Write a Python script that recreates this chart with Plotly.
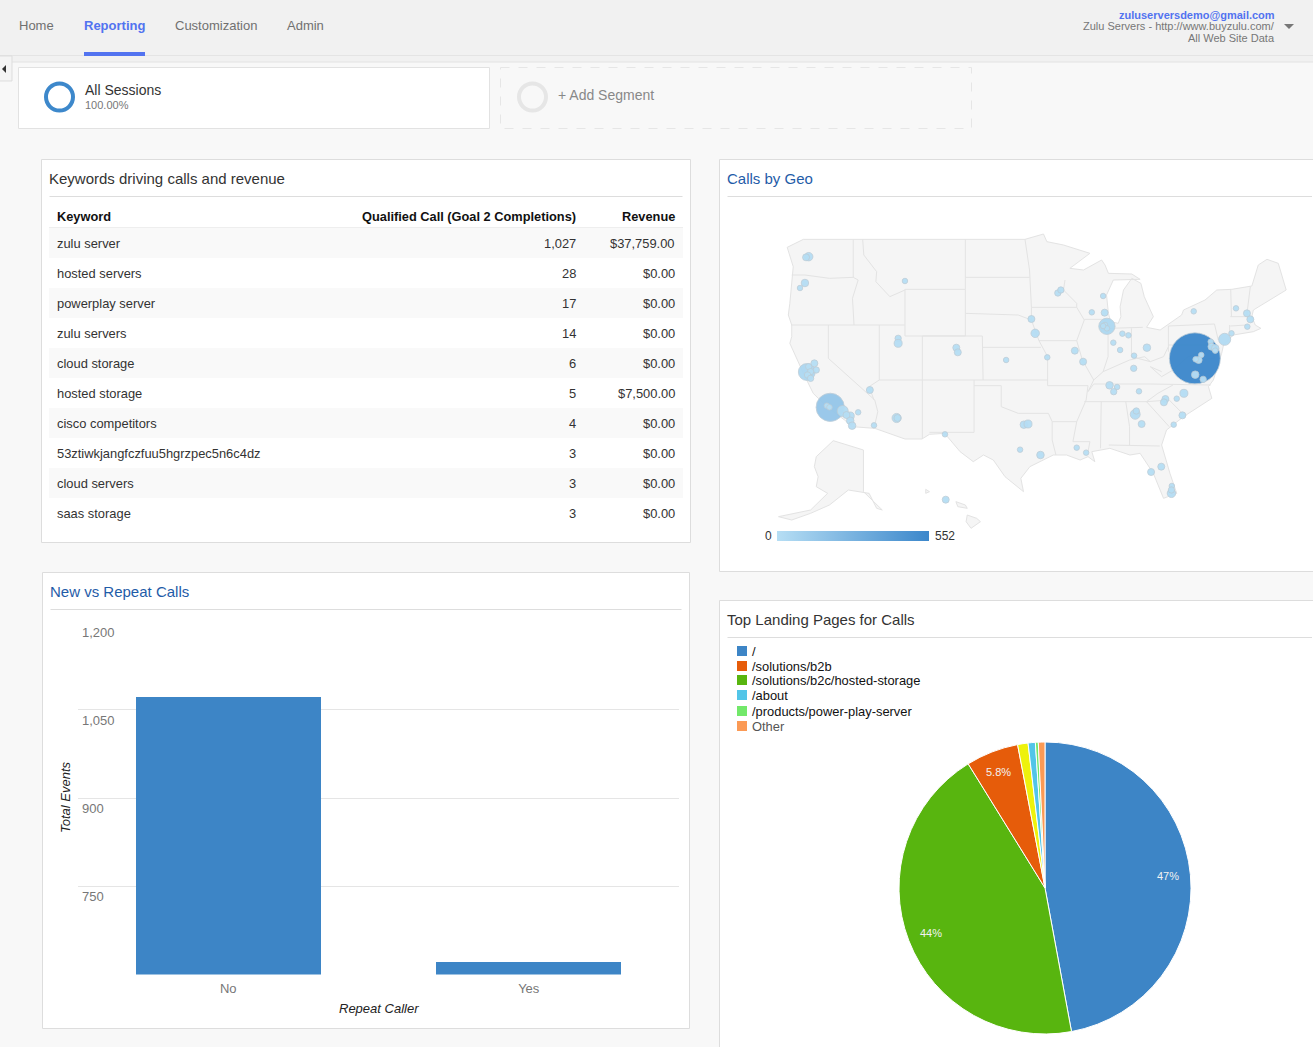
import plotly.graph_objects as go


nav_labels = ['Home', 'Reporting', 'Customization', 'Admin']
keywords = ['zulu server', 'hosted servers', 'powerplay server', 'zulu servers', 'cloud storage', 'hosted storage', 'cisco competitors', '53ztiwkjangfczfuu5hgrzpec5n6c4dz', 'cloud servers', 'saas storage']
calls = ['1,027', '28', '17', '14', '6', '5', '4', '3', '3', '3']
revenue = ['$37,759.00', '$0.00', '$0.00', '$0.00', '$0.00', '$7,500.00', '$0.00', '$0.00', '$0.00', '$0.00']

repeat_caller = ['No', 'Yes']
total_events = [1073, 622]
event_ticks = [750, 900, 1050, 1200]

pages = ['/', '/solutions/b2c/hosted-storage', '/solutions/b2b', '(yellow)', '/about', '/products/power-play-server', 'Other']
page_share = [47, 44, 5.8, 1.15, 0.8, 0.32, 0.73]
page_colors = ['#3d85c6', '#58b50f', '#e65c0a', '#eef20c', '#52c5e8', '#72e86a', '#fb9a55']
legend_pages = ['/', '/solutions/b2b', '/solutions/b2c/hosted-storage', '/about', '/products/power-play-server', 'Other']
legend_colors = ['#3d85c6', '#e65c0a', '#58b50f', '#52c5e8', '#72e86a', '#fb9a55']

# map drawing is in units of the picture crop
land_x = [221, 808, 857, 866, 910, 980, 927, 963, 1011, 1020, 1029, 1091, 1113, 1042, 1024, 1029, 1035, 1055, 1062, 1060, 1069, 1091, 1115, 1124, 1148, 1130, 1166, 1192, 1223, 1228, 1285, 1316, 1356, 1409, 1426, 1449, 1479, 1500, 1457, 1413, 1409, 1418, 1433, 1413, 1360, 1334, 1329, 1307, 1294, 1303, 1228, 1183, 1170, 1192, 1210, 1175, 1148, 1113, 1086, 1033, 985, 993, 975, 954, 918, 883, 821, 797, 804, 755, 724, 698, 671, 636, 610, 595, 555, 535, 490, 410, 350, 330, 283, 247, 221, 203, 185, 190, 190, 181, 185, 192, 194, 178, 221, None, 255, 300, 380, 380, 430, 415, 395, 340, 290, 240, 190, 155, 240, 285, 255, 260, 250, 255, None, 655, 680, 690, 665, 652, 655, None, 625, 650, 655, 630, 625, None, 545, 555, 545, 545]
land_y = [118, 118, 102, 125, 135, 160, 205, 210, 180, 195, 220, 222, 238, 240, 285, 340, 365, 370, 350, 320, 270, 235, 250, 290, 350, 382, 390, 370, 345, 330, 300, 270, 268, 258, 195, 178, 190, 270, 300, 330, 350, 375, 385, 395, 405, 435, 460, 540, 560, 595, 650, 690, 735, 820, 880, 895, 820, 760, 765, 745, 755, 785, 770, 780, 765, 765, 800, 835, 875, 830, 780, 765, 785, 755, 720, 700, 703, 717, 717, 685, 680, 660, 620, 580, 520, 475, 430, 410, 375, 345, 310, 225, 200, 142, 118, None, 770, 722, 750, 875, 930, 925, 880, 870, 915, 940, 960, 950, 930, 880, 860, 830, 800, 770, None, 945, 955, 965, 985, 965, 945, None, 905, 915, 925, 920, 905, None, 868, 875, 880, 868]
border_x = [353, 353, None, 190, 225, 290, 353, 366, 351, 355, None, 188, 490, None, 378, 381, 415, 413, 450, 490, None, 490, 650, 650, 536, 490, 490, None, 650, 650, None, 650, 820, None, 650, 790, 825, None, 536, 695, 697, 536, 536, None, 695, 850, None, 422, 422, 536, None, 287, 287, 410, 418, 408, None, 422, 395, 408, None, 536, 536, None, 673, 673, 555, None, 673, 745, 745, 790, 870, 880, 880, 890, None, 697, 868, None, 868, 975, 970, 945, 880, None, 945, 935, 980, 975, None, 1010, 1008, None, 965, 1130, None, 1075, 1085, 1085, None, 1030, 1165, None, 1130, 1190, None, 975, 990, 1140, 1300, None, 1130, 1160, 1200, None, 1130, 1190, 1225, None, 825, 945, None, 914, 910, 945, 945, 965, 945, None, 845, 945, None, 808, 820, 825, 825, 845, 868, 868, None, 945, 960, 990, 975, None, 965, 1030, None, 1028, 1028, 1015, None, 990, 1015, 1085, 1125, 1140, None, 1090, 1090, None, 1030, 1120, None, 1188, 1188, None, 1090, 1140, 1175, 1188, None, 1140, 1170, None, 1140, 1170, 1200, 1240, 1290, None, 1188, 1300, None, 1188, 1310, 1320, None, 1350, 1350, None, 1353, 1355, None, 1405, 1395, None, 1352, 1400, None, 1352, 1395, None, 1300, 1310, 1270]
border_y = [118, 232, None, 225, 225, 235, 232, 240, 295, 375, None, 375, 375, None, 118, 165, 215, 245, 290, 270, None, 268, 268, 408, 408, 408, 268, None, 118, 268, None, 232, 232, None, 340, 345, 360, None, 408, 408, 540, 540, 408, None, 442, 442, None, 375, 540, 540, None, 375, 475, 600, 635, 685, None, 540, 560, 600, None, 540, 717, None, 540, 697, 697, None, 557, 557, 620, 640, 640, 665, 720, 765, None, 540, 540, None, 557, 557, 600, 665, 665, None, 665, 725, 725, 755, None, 605, 745, None, 605, 605, None, 605, 680, 735, None, 735, 738, None, 605, 680, None, 575, 552, 552, 555, None, 605, 580, 555, None, 605, 600, 640, None, 322, 322, None, 240, 270, 310, 322, 360, 422, None, 422, 422, None, 118, 210, 322, 360, 422, 470, 557, None, 422, 480, 540, 575, None, 358, 358, None, 385, 470, 515, None, 540, 515, 480, 470, 485, None, 385, 470, None, 385, 382, None, 378, 455, None, 470, 485, 470, 440, None, 500, 515, None, 500, 530, 510, 470, 450, None, 435, 435, None, 378, 372, 420, None, 375, 415, None, 268, 350, None, 260, 350, None, 350, 350, None, 378, 375, None, 435, 475, 480]
city_x = [1258, 292, 230, 1025, 1337, 325, 235, 228, 225, 212, 490, 895, 903, 1015, 985, 1019, 1020, 1025, 1015, 825, 835, 867, 758, 940, 962, 472, 472, 626, 630, 397, 468, 470, 408, 250, 255, 235, 240, 232, 240, 283, 290, 345, 345, 350, 366, 335, 596, 805, 816, 795, 849, 945, 970, 1032, 1052, 1043, 1110, 1066, 1082, 1042, 1060, 1097, 1096, 1131, 1255, 1367, 1396, 1405, 1397, 1355, 1229, 1210, 1180, 1176, 1100, 1103, 1117, 1225, 1202, 1169, 1142, 1197, 1196, 1196, 598, 1275, 1268, 1260, 1259, 1280, 1300, 1302, 1312, 1312]
city_y = [475, 622, 516, 379, 418, 633, 170, 172, 249, 264, 243, 279, 270, 288, 337, 338, 375, 385, 378, 357, 400, 472, 480, 452, 485, 415, 430, 443, 457, 570, 654, 654, 676, 490, 510, 500, 515, 525, 535, 617, 622, 648, 662, 677, 637, 645, 703, 674, 672, 749, 765, 743, 758, 556, 561, 575, 574, 401, 406, 428, 450, 467, 505, 443, 334, 325, 340, 358, 380, 400, 580, 596, 597, 607, 643, 633, 672, 646, 674, 800, 816, 858, 880, 870, 899, 465, 480, 478, 524, 538, 425, 440, 445, 452]
city_calls = [552, 150, 44, 40, 18, 14, 6, 3, 4, 1, 1, 2, 2, 1, 1, 3, 1, 1, 1, 3, 6, 1, 1, 3, 3, 2, 5, 3, 3, 3, 8, 3, 1, 3, 2, 2, 2, 2, 2, 1, 1, 5, 4, 4, 1, 3, 1, 4, 5, 1, 4, 1, 1, 4, 1, 2, 1, 1, 1, 1, 1, 1, 2, 4, 1, 1, 3, 3, 1, 1, 5, 1, 3, 3, 10, 2, 3, 3, 1, 3, 3, 1, 6, 2, 3, 1, 3, 1, 4, 2, 1, 3, 4, 1]

fig = go.Figure()
fig.add_trace(go.Scatter(x=[None], y=[None], hoverinfo='skip', xaxis='x', yaxis='y'))  # pixel canvas for the page furniture

fig.add_trace(go.Bar(x=repeat_caller, y=total_events, width=0.617, marker={'color': '#3d85c6', 'line': {'width': 0}}, xaxis='x2', yaxis='y2'))

fig.add_trace(go.Scatter(x=land_x, y=land_y, mode='lines', fill='toself', fillcolor='#f5f5f5', line={'color': '#e3e3e3', 'width': 1}, hoverinfo='skip', xaxis='x3', yaxis='y3'))
fig.add_trace(go.Scatter(x=border_x, y=border_y, mode='lines', line={'color': '#e3e3e3', 'width': 1}, hoverinfo='skip', connectgaps=False, xaxis='x3', yaxis='y3'))
fig.add_trace(go.Scatter(x=city_x, y=city_y, mode='markers', xaxis='x3', yaxis='y3', marker={
    'size': [3.5 + 47.5 * (c / 552) ** 0.5 for c in city_calls],
    'color': city_calls, 'cmin': 0, 'cmax': 552, 'opacity': 0.95,
    'colorscale': [[0, '#b6def4'], [1, '#3b87cb']],
    'line': {'color': '#bccbd6', 'width': 0.8},
    'colorbar': {'orientation': 'h', 'thickness': 10, 'thicknessmode': 'pixels', 'len': 152, 'lenmode': 'pixels',
                 'x': 853 / 1313, 'xanchor': 'center', 'y': 1 - 536 / 1047, 'yanchor': 'middle',
                 'xpad': 0, 'ypad': 0, 'outlinewidth': 0, 'showticklabels': False, 'ticks': ''},
}))

fig.add_trace(go.Pie(labels=pages, values=page_share, sort=False, direction='clockwise', rotation=0, textinfo='none', marker={'colors': page_colors, 'line': {'color': 'white', 'width': 1}},
                     domain={'x': [899 / 1313, 1191 / 1313], 'y': [1 - 1034 / 1047, 1 - 742 / 1047]}))

shapes = []
annotations = []
font_name = 'Liberation Sans'

# page background and top bar
shapes.append(dict(type='rect', xref='x', yref='y', x0=0, x1=1313, y0=0, y1=1047, fillcolor='#f8f8f8', line_width=0, layer='below'))
shapes.append(dict(type='rect', xref='x', yref='y', x0=0, x1=1313, y0=0, y1=62, fillcolor='#f1f1f1', line_width=0, layer='below'))
shapes.append(dict(type='line', xref='x', yref='y', x0=0, x1=1313, y0=55.5, y1=55.5, line={'color': '#e4e4e4', 'width': 1}, layer='below'))
shapes.append(dict(type='line', xref='x', yref='y', x0=0, x1=1313, y0=62, y1=62, line={'color': '#e2e2e2', 'width': 1}, layer='below'))
shapes.append(dict(type='rect', xref='x', yref='y', x0=84, x1=145, y0=52, y1=56, fillcolor='#5273f0', line_width=0, layer='below'))
shapes.append(dict(type='rect', xref='x', yref='y', x0=-1, x1=12, y0=56, y1=81, fillcolor='#f4f4f4', line={'color': '#dddddd', 'width': 1}, layer='below'))
shapes.append(dict(type='path', xref='x', yref='y', path='M 2 69 L 6 65 L 6 73 Z', fillcolor='#333333', line_width=0))
shapes.append(dict(type='path', xref='x', yref='y', path='M 1284 24 L 1294 24 L 1289 29 Z', fillcolor='#777777', line_width=0))

nav_x = [19, 84, 175, 287]
for label, x in zip(nav_labels, nav_x):
    annotations.append(dict(x=x, y=25.5, text='<b>' + label + '</b>' if label == 'Reporting' else label, font={'size': 13, 'color': '#5273f0' if label == 'Reporting' else '#707070'}, xanchor='left'))
annotations.append(dict(x=1275, y=14.5, text='<b>zuluserversdemo@gmail.com</b>', font={'size': 11, 'color': '#5273f0'}, xanchor='right'))
annotations.append(dict(x=1275, y=26, text='Zulu Servers - http://www.buyzulu.com/', font={'size': 11, 'color': '#777777'}, xanchor='right'))
annotations.append(dict(x=1275, y=38, text='All Web Site Data', font={'size': 11, 'color': '#777777'}, xanchor='right'))

# segment cards
shapes.append(dict(type='rect', xref='x', yref='y', x0=18.5, x1=489.5, y0=67.5, y1=128.5, fillcolor='white', line={'color': '#e2e2e2', 'width': 1}, layer='below'))
shapes.append(dict(type='rect', xref='x', yref='y', x0=500.5, x1=971.5, y0=67.5, y1=128.5, fillcolor='#f8f8f8', line={'color': '#e6e6e6', 'width': 1, 'dash': 'dash'}, layer='below'))
shapes.append(dict(type='circle', xref='x', yref='y', x0=46, x1=73, y0=83.5, y1=110.5, line={'color': '#3d88cb', 'width': 4}))
shapes.append(dict(type='circle', xref='x', yref='y', x0=519, x1=546, y0=83.5, y1=110.5, line={'color': '#e6e6e6', 'width': 4}))
annotations.append(dict(x=85, y=90, text='All Sessions', font={'size': 14, 'color': '#333333'}, xanchor='left'))
annotations.append(dict(x=85, y=105, text='100.00%', font={'size': 11, 'color': '#777777'}, xanchor='left'))
annotations.append(dict(x=558, y=95, text='+ Add Segment', font={'size': 14, 'color': '#888888'}, xanchor='left'))

# the four panels
panels = [(41.5, 690.5, 159.5, 542.5, 'Keywords driving calls and revenue', '#333333', 196.5),
          (719.5, 1320, 159.5, 571.5, 'Calls by Geo', '#1f5ca8', 196.5),
          (42.5, 689.5, 572.5, 1028.5, 'New vs Repeat Calls', '#1f5ca8', 609.5),
          (719.5, 1320, 600.5, 1060, 'Top Landing Pages for Calls', '#333333', 637.5)]
for x0, x1, y0, y1, title, color, rule in panels:
    shapes.append(dict(type='rect', xref='x', yref='y', x0=x0, x1=x1, y0=y0, y1=y1, fillcolor='white', line={'color': '#dddddd', 'width': 1}, layer='below'))
    shapes.append(dict(type='line', xref='x', yref='y', x0=x0 + 8, x1=min(x1 - 8, 1313), y0=rule, y1=rule, line={'color': '#dddddd', 'width': 1}, layer='below'))
    annotations.append(dict(x=x0 + 7.5, y=rule - 18.5, text=title, font={'size': 15, 'color': color}, xanchor='left'))

# table
annotations.append(dict(x=57, y=216.5, text='<b>Keyword</b>', font={'size': 12.8, 'color': '#111111'}, xanchor='left'))
annotations.append(dict(x=576, y=216.5, text='<b>Qualified Call (Goal 2 Completions)</b>', font={'size': 12.8, 'color': '#111111'}, xanchor='right'))
annotations.append(dict(x=675, y=216.5, text='<b>Revenue</b>', font={'size': 12.8, 'color': '#111111'}, xanchor='right'))
shapes.append(dict(type='line', xref='x', yref='y', x0=49, x1=683, y0=227.5, y1=227.5, line={'color': '#eeeeee', 'width': 1}, layer='below'))
for i in range(len(keywords)):
    row_y = 243.5 + 30 * i
    if i % 2 == 0:
        shapes.append(dict(type='rect', xref='x', yref='y', x0=49, x1=683, y0=row_y - 15.5, y1=row_y + 14.5, fillcolor='#f9f9f9', line_width=0, layer='below'))
    annotations.append(dict(x=57, y=row_y, text=keywords[i], font={'size': 12.9, 'color': '#333333'}, xanchor='left'))
    annotations.append(dict(x=576, y=row_y, text=calls[i], font={'size': 12.9, 'color': '#333333'}, xanchor='right'))
    annotations.append(dict(x=675, y=row_y, text=revenue[i], font={'size': 12.9, 'color': '#333333'}, xanchor='right'))

# bar chart texts
for tick in event_ticks:
    annotations.append(dict(x=82, xref='x', y=tick, yref='y2', yshift=-10.5, text=f'{tick:,}', font={'size': 13, 'color': '#777777'}, xanchor='left'))
annotations.append(dict(x=65, y=797, text='<i>Total Events</i>', textangle=-90, font={'size': 13, 'color': '#222222'}))
annotations.append(dict(x=379, y=1008, text='<i>Repeat Caller</i>', font={'size': 13, 'color': '#222222'}))

# map scale
annotations.append(dict(x=768, y=536, text='0', font={'size': 12, 'color': '#333333'}))
annotations.append(dict(x=945, y=536, text='552', font={'size': 12, 'color': '#333333'}))

# pie legend and labels
legend_y = [651, 666, 680, 695, 711, 726]
for label, color, y in zip(legend_pages, legend_colors, legend_y):
    shapes.append(dict(type='rect', xref='x', yref='y', x0=737, x1=747, y0=y - 5, y1=y + 5, fillcolor=color, line_width=0))
    annotations.append(dict(x=752, y=y, text=label, font={'size': 12.9, 'color': '#555555' if label == 'Other' else '#111111'}, xanchor='left'))
annotations.append(dict(x=1168, y=876, text='47%', font={'size': 11, 'color': '#f2f2f2'}))
annotations.append(dict(x=931, y=933, text='44%', font={'size': 11, 'color': '#f2f2f2'}))
annotations.append(dict(x=998, y=772, text='5.8%', font={'size': 11, 'color': '#f2f2f2'}))

for a in annotations:
    a.setdefault('xref', 'x')
    a.setdefault('yref', 'y')
    a.setdefault('yanchor', 'middle')
    a['showarrow'] = False
    a['borderpad'] = 0
    a['xshift'] = {'left': -1, 'right': 1}.get(a.get('xanchor'), 0)

fig.update_layout(width=1313, height=1047, margin={'l': 0, 'r': 0, 't': 0, 'b': 0, 'pad': 0}, showlegend=False,
                  paper_bgcolor='#f8f8f8', plot_bgcolor='rgba(0,0,0,0)', font={'family': font_name},
                  shapes=shapes, annotations=annotations, bargap=0,
                  xaxis={'range': [0, 1313], 'visible': False, 'fixedrange': True},
                  yaxis={'range': [1047, 0], 'visible': False, 'fixedrange': True},
                  xaxis2={'domain': [78 / 1313, 679 / 1313], 'anchor': 'y2', 'range': [-0.5, 1.5], 'showgrid': False, 'zeroline': False, 'showline': False, 'ticks': '', 'tickfont': {'size': 13, 'color': '#777777'}, 'ticklabelstandoff': 4},
                  yaxis2={'domain': [1 - 974.5 / 1047, 1 - 621.5 / 1047], 'anchor': 'x2', 'range': [600, 1200], 'tickvals': [600] + event_ticks, 'showticklabels': False, 'gridcolor': '#e5e5e5', 'zeroline': False, 'showline': False, 'ticks': ''},
                  xaxis3={'domain': [720 / 1313, 1], 'anchor': 'y3', 'range': [0, 1571], 'visible': False, 'fixedrange': True},
                  yaxis3={'domain': [1 - 570 / 1047, 1 - 200 / 1047], 'anchor': 'x3', 'range': [1110, 0], 'visible': False, 'fixedrange': True})
fig.write_html('out.html', config={'displayModeBar': False}, post_script="document.body.style.margin='0';")
